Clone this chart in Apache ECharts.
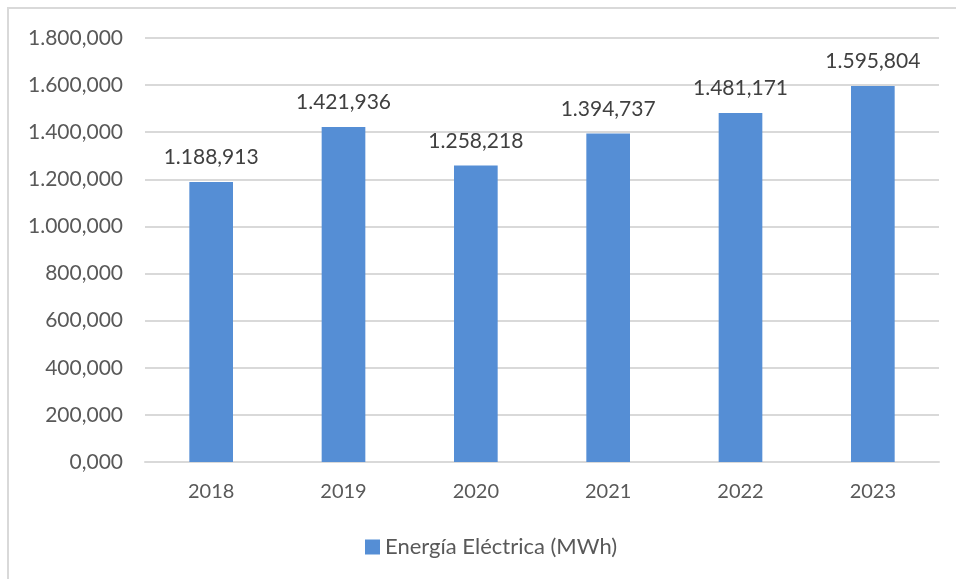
<!DOCTYPE html>
<html>
<head>
<meta charset="utf-8">
<script src="https://cdn.jsdelivr.net/npm/echarts@6/dist/echarts.min.js"></script>
<style>html,body{margin:0;padding:0;background:#fff}#c{width:956px;height:579px}</style>
</head>
<body>
<div id="c"></div>
<script>
const categories = ['2018','2019','2020','2021','2022','2023'];
const seriesName = 'Energía Eléctrica (MWh)';
const values = [1188.913, 1421.936, 1258.218, 1394.737, 1481.171, 1595.804];

function fmt(v){
  const s = Number(v).toFixed(3);
  const parts = s.split('.');
  const intPart = parts[0].replace(/\B(?=(\d{3})+(?!\d))/g, '.');
  return intPart + ',' + parts[1];
}

const chart = echarts.init(document.getElementById('c'), null, {renderer:'canvas'});
const font = 'Lato, "Open Sans", sans-serif';
chart.setOption({
  animation:false,
  backgroundColor:'#fff',
  textStyle:{fontFamily:font},
  graphic:[{type:'rect',shape:{x:8,y:8,width:960,height:600},style:{fill:'none',stroke:'#D9D9D9',lineWidth:2},silent:true}],
  grid:{left:145,right:17,top:38,bottom:117},
  legend:{
    bottom:16,left:360,
    itemWidth:15,itemHeight:15,itemGap:5,
    icon:'rect',
    textStyle:{color:'#595959',fontSize:22,fontFamily:font},
    data:[seriesName]
  },
  xAxis:{
    type:'category',data:categories,
    axisLine:{lineStyle:{color:'#D9D9D9',width:2}},
    axisTick:{show:false},
    axisLabel:{color:'#595959',fontSize:20,margin:20,fontFamily:font}
  },
  yAxis:{
    type:'value',min:0,max:1800,interval:200,
    axisLine:{show:false},axisTick:{show:false},
    splitLine:{lineStyle:{color:'#D9D9D9',width:2}},
    axisLabel:{color:'#595959',fontSize:21,margin:22,formatter:fmt,fontFamily:font}
  },
  series:[{
    name:seriesName,type:'bar',data:values,barWidth:'33%',
    itemStyle:{color:'#558ED5'},
    label:{show:true,position:'top',distance:14,color:'#404040',fontSize:21,fontFamily:font,formatter:p=>fmt(p.value)}
  }]
});
</script>
</body>
</html>
